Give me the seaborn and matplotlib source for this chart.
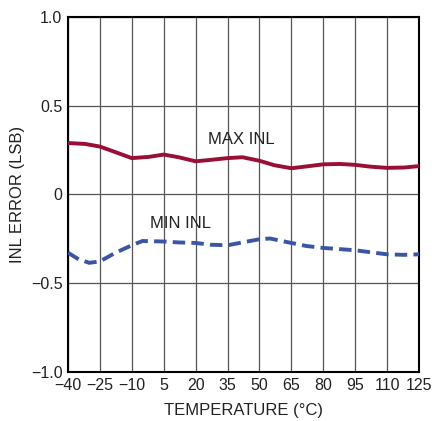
import matplotlib
matplotlib.use("Agg")
import matplotlib.pyplot as plt
import seaborn as sns
import pandas as pd

temps_max = [-40, -32, -25, -18, -10, -2, 5, 12, 20, 27, 35, 42, 50, 57, 65, 72, 80, 88, 95, 102, 110, 118, 125]
inl_max = [0.29, 0.285, 0.27, 0.24, 0.205, 0.212, 0.225, 0.21, 0.187, 0.195, 0.205, 0.21, 0.19, 0.165, 0.148, 0.158, 0.17, 0.172, 0.167, 0.157, 0.15, 0.152, 0.16]
temps_min = [-40, -35, -30, -25, -18, -10, -5, 5, 12, 20, 27, 35, 42, 50, 55, 65, 72, 80, 88, 95, 102, 110, 118, 125]
inl_min = [-0.328, -0.365, -0.385, -0.377, -0.33, -0.286, -0.262, -0.265, -0.27, -0.273, -0.283, -0.286, -0.27, -0.252, -0.248, -0.273, -0.29, -0.301, -0.308, -0.314, -0.325, -0.337, -0.34, -0.337]
x_ticks = [-40, -25, -10, 5, 20, 35, 50, 65, 80, 95, 110, 125]
y_ticks = [-1.0, -0.5, 0, 0.5, 1.0]
y_tick_labels = ["\u22121.0", "\u22120.5", "0", "0.5", "1.0"]
x_tick_labels = [("\u2212%d" % -t) if t < 0 else str(t) for t in x_ticks]

sns.set_style("white")
plt.rcParams['font.family'] = ['Liberation Sans Narrow', 'Liberation Sans', 'DejaVu Sans']

fig = plt.figure(figsize=(4.34, 4.21), dpi=100)
ax = fig.add_axes([68/434, 1 - 372/421, (419-68)/434, (372-17)/421])

df_max = pd.DataFrame({"t": temps_max, "v": inl_max})
df_min = pd.DataFrame({"t": temps_min, "v": inl_min})
sns.lineplot(data=df_max, x="t", y="v", ax=ax, color="#9a0f35", linewidth=2.8, zorder=3)
sns.lineplot(data=df_min, x="t", y="v", ax=ax, color="#3a55a4", linewidth=2.8, linestyle=(0, (3.2, 1.6)), zorder=3)

ax.set_xlim(-40, 125)
ax.set_ylim(-1.0, 1.0)
ax.set_xticks(x_ticks)
ax.set_xticklabels(x_tick_labels, fontsize=11.5)
ax.set_yticks(y_ticks)
ax.set_yticklabels(y_tick_labels, fontsize=11.5)
ax.tick_params(length=0, pad=4, colors="#222222")
ax.grid(True, color="#555555", linewidth=0.9)
for s in ax.spines.values():
    s.set_color("black")
    s.set_linewidth(1.5)
ax.set_xlabel("TEMPERATURE (\u00b0C)", fontsize=12, color="#222222")
ax.set_ylabel("INL ERROR (LSB)", fontsize=12, color="#222222")
ax.xaxis.set_label_coords(0.4986, -0.087)
ax.yaxis.set_label_coords(-0.1225, 0.5)

ax.text(41.3, 0.31, "MAX INL", ha="center", va="center", fontsize=12, color="#222222")
ax.text(13.1, -0.162, "MIN INL", ha="center", va="center", fontsize=12, color="#222222")

fig.savefig("out.png", dpi=100)
